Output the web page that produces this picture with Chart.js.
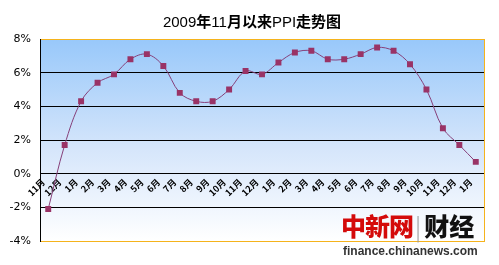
<!DOCTYPE html>
<html>
<head>
<meta charset="utf-8">
<script src="https://cdn.jsdelivr.net/npm/chart.js@4"></script>
<style>
  body { margin: 0; background: #fff; }
  #wrap { position: relative; width: 499px; height: 265px; }
  #titulo { position: absolute; left: 0; top: 10px; width: 504px; text-align: center;
            font-family: "Liberation Sans", Arial, sans-serif; font-size: 15px; color: #000; }
  #titulo b { font-family: "Noto Sans CJK SC", sans-serif; font-weight: bold; }
  #logo { position: absolute; left: 341px; top: 206px; font-family: "Noto Sans CJK SC", sans-serif;
          font-size: 25px; font-weight: 900; line-height: 38px; white-space: nowrap; }
  #logo .rojo { color: #d40a0a; letter-spacing: -1px; }
  #logo .sep { color: #999; font-weight: 300; font-size: 24px; margin: 0 3px 0 2px; }
  #logo .negro { color: #111; letter-spacing: 0px; }
  #web { position: absolute; left: 343px; top: 244px; font-family: "Liberation Sans", Arial, sans-serif;
         font-size: 12px; font-weight: bold; color: #333; }
</style>
</head>
<body>
<div id="wrap">
  <canvas id="graficaPPI" width="499" height="265"></canvas>
  <div id="titulo">2009<b>年</b>11<b>月以来</b>PPI<b>走势图</b></div>
  <div id="logo"><span class="rojo">中新网</span><span class="sep">|</span><span class="negro">财经</span></div>
  <div id="web">finance.chinanews.com</div>
</div>
<script>
// meses desde nov 2009 hasta ene 2012
const meses = ['11月', '12月',
  '1月', '2月', '3月', '4月', '5月', '6月', '7月', '8月', '9月', '10月', '11月', '12月',
  '1月', '2月', '3月', '4月', '5月', '6月', '7月', '8月', '9月', '10月', '11月', '12月',
  '1月'];
const ppi = [-2.1, 1.7, 4.3, 5.4, 5.9, 6.8, 7.1, 6.4, 4.8, 4.3, 4.3, 5.0, 6.1, 5.9,
  6.6, 7.2, 7.3, 6.8, 6.8, 7.1, 7.5, 7.3, 6.5, 5.0, 2.7, 1.7, 0.7];
const ejeY = { min: -4, max: 8, paso: 2 };

const naranja = '#f5b31c';

// fondo degradado y borde derecho del area
const fondoPlugin = {
    id: 'fondo',
    beforeDraw(chart) {
        const { ctx, chartArea: a } = chart;
        const g = ctx.createLinearGradient(0, a.top, 0, a.bottom);
        g.addColorStop(0, '#98c8fa');
        g.addColorStop(0.55, '#d6e6fb');
        g.addColorStop(1, '#ffffff');
        ctx.save();
        ctx.fillStyle = g;
        ctx.fillRect(a.left, a.top, a.right - a.left, a.bottom - a.top);
        ctx.restore();
    },
    afterDraw(chart) {
        const { ctx, chartArea: a } = chart;
        ctx.save();
        ctx.strokeStyle = naranja;
        ctx.lineWidth = 1;
        ctx.beginPath();
        ctx.moveTo(a.right + 0.5, a.top);
        ctx.lineTo(a.right + 0.5, a.bottom + 1);
        ctx.stroke();
        ctx.restore();
    }
};

const ctx = document.getElementById('graficaPPI').getContext('2d');
new Chart(ctx, {
    type: 'line',
    data: {
        labels: meses,
        datasets: [{
            label: 'PPI',
            data: ppi,
            borderColor: '#86407a',
            borderWidth: 1,
            backgroundColor: '#993366',
            pointStyle: 'rect',
            pointRadius: 4.2,
            pointBorderWidth: 0,
            pointBackgroundColor: '#993366',
            tension: 0.35,
            fill: false
        }]
    },
    options: {
        responsive: false,
        animation: false,
        devicePixelRatio: 1,
        layout: { padding: { top: 39, left: 0, right: 15, bottom: 24 } },
        plugins: {
            legend: { display: false },
            title: { display: false },
            tooltip: { enabled: false }
        },
        scales: {
            x: {
                position: { y: 0 },
                offset: true,
                grid: { display: false, drawTicks: false },
                border: { display: false },
                ticks: {
                    autoSkip: false,
                    minRotation: 45,
                    maxRotation: 45,
                    padding: 3,
                    labelOffset: -5,
                    color: '#000',
                    font: { family: '"Noto Sans CJK SC", sans-serif', size: 9, weight: 'bold' }
                }
            },
            y: {
                min: ejeY.min,
                max: ejeY.max,
                afterFit(scale) { scale.width = 40; },
                grid: {
                    drawTicks: false,
                    lineWidth: 1,
                    color: (c) => (c.tick.value === ejeY.max || c.tick.value === ejeY.min) ? naranja : '#000'
                },
                border: { display: true, color: '#000', width: 1 },
                ticks: {
                    stepSize: ejeY.paso,
                    padding: 9,
                    color: '#000',
                    font: { family: '"DejaVu Sans", sans-serif', size: 11 },
                    callback: (v) => v + '%'
                }
            }
        }
    },
    plugins: [fondoPlugin]
});
</script>
</body>
</html>
